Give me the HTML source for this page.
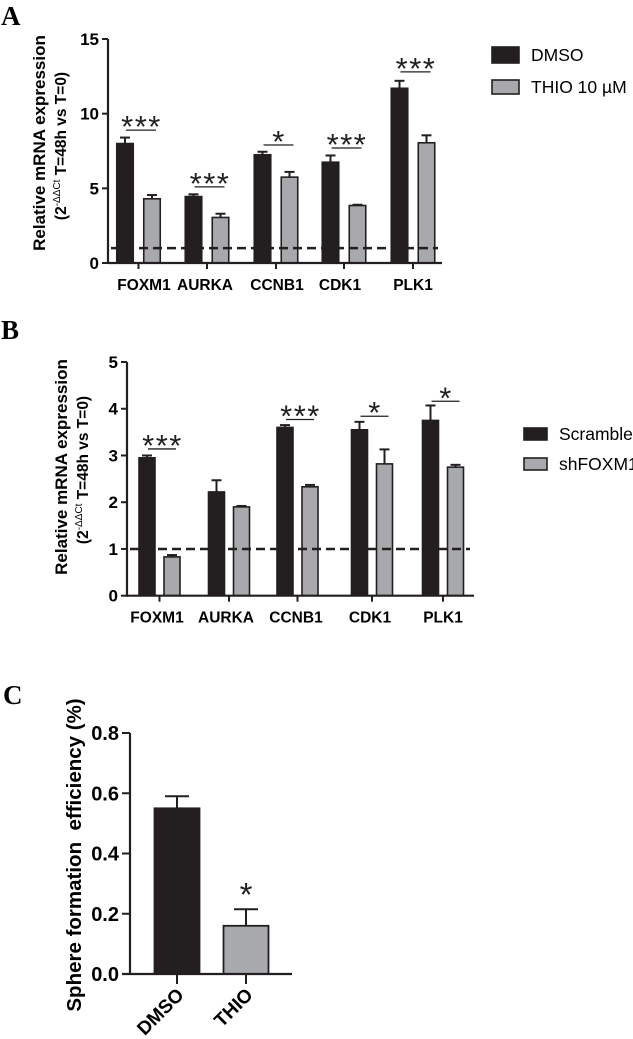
<!DOCTYPE html>
<html><head><meta charset="utf-8"><style>
html,body{margin:0;padding:0;background:#fff;}
svg{display:block;font-family:"Liberation Sans",Arial,sans-serif;}
.lt{font-family:"Liberation Serif",serif;font-weight:bold;font-size:27px;}
.tk{font-weight:bold;}
.yl{font-weight:bold;}
.lg{font-size:17.5px;}
</style></head><body>
<svg id="c" width="633" height="1039" viewBox="0 0 633 1039" xmlns="http://www.w3.org/2000/svg">
<text class="lt" x="1" y="25">A</text>
<text class="lt" x="1" y="339">B</text>
<text class="lt" x="3" y="704">C</text>
</svg>
<script>
const genesA = ["FOXM1","AURKA","CCNB1","CDK1","PLK1"];
const dmsoA = [8.0,4.45,7.25,6.75,11.7];
const dmsoErrA = [0.4,0.15,0.2,0.45,0.5];
const thioA = [4.3,3.05,5.75,3.85,8.05];
const thioErrA = [0.25,0.25,0.35,0.05,0.5];
const sigA = ["***","***","*","***","***"];
const sigLevelA = [8.9,5.1,7.9,7.7,12.8];
const ticksA = [0,5,10,15];

const genesB = ["FOXM1","AURKA","CCNB1","CDK1","PLK1"];
const scrB = [2.95,2.22,3.6,3.55,3.75];
const scrErrB = [0.05,0.25,0.05,0.17,0.32];
const shB = [0.83,1.9,2.33,2.82,2.75];
const shErrB = [0.04,0.02,0.04,0.31,0.05];
const sigB = ["***","","***","*","*"];
const sigLevelB = [3.14,0,3.77,3.84,4.16];
const ticksB = [0,1,2,3,4,5];

const groupsC = ["DMSO","THIO"];
const valsC = [0.55,0.16];
const errC = [0.04,0.055];
const sigC = ["","*"];
const ticksC = [0,0.2,0.4,0.6,0.8];

const svg = document.getElementById('c');
const NS = 'http://www.w3.org/2000/svg';
function mk(tag, attrs, parent){
  const e = document.createElementNS(NS, tag);
  for (const k in attrs) e.setAttribute(k, attrs[k]);
  (parent||svg).appendChild(e);
  return e;
}
const BLACK = '#231f20', GREY = '#a7a9ac', STROKE = '#231f20';

function groupedChart(cfg){
  const g = mk('g', {});
  
  
  const y = v => cfg.y0 - (v - cfg.min) / (cfg.max - cfg.min) * (cfg.y0 - cfg.yTop);
  const x = i => cfg.centers[i];
  cfg.genes.forEach((gname, i) => {
    [[cfg.s1, cfg.e1, BLACK, -1, 'dark'], [cfg.s2, cfg.e2, GREY, 1, 'light']].forEach(([s, e, col, side, nm]) => {
      const cx = x(i) + side * cfg.off;
      const top = y(s[i]);
      const bx = cx - cfg.bw/2;
      const et = y(s[i] + e[i]);
      const el = mk('line', {x1:cx, x2:cx, y1:top, y2:et, stroke:STROKE, 'stroke-width':2}, g);
      
      
      const cap = mk('line', {x1:cx-5, x2:cx+5, y1:et, y2:et, stroke:STROKE, 'stroke-width':2}, g);
      
      
      const r = mk('rect', {x:bx, y:top, width:cfg.bw, height:cfg.y0-top, fill:col, stroke:STROKE, 'stroke-width':1.6}, g);
      
      
    });
    if (cfg.sig[i]) {
      const ly = y(cfg.sigLevel[i]);
      const l = mk('line', {x1:x(i)-cfg.off+1, x2:x(i)+cfg.off+4, y1:ly, y2:ly, stroke:STROKE, 'stroke-width':1.3}, g);
      
      
      const t = mk('text', {x:x(i)+3, y:ly+7, 'text-anchor':'middle', style:'font-size:31px', fill:STROKE, 'letter-spacing':'1.5'}, g);
      t.textContent = cfg.sig[i];
      
      
    }
    const tl = mk('line', {x1:x(i), x2:x(i), y1:cfg.y0, y2:cfg.y0+6, stroke:STROKE, 'stroke-width':2}, g);
    
    
    const lab = mk('text', {x:cfg.labelX ? cfg.labelX[i] : x(i), y:cfg.y0+27, 'text-anchor':'middle', class:'tk', style:'font-size:15.5px'}, g);
    lab.textContent = gname;
    
    
  });
  const d = mk('line', {x1:cfg.ax+3, x2:cfg.xEnd-4, y1:y(1), y2:y(1), stroke:STROKE, 'stroke-width':2.5, 'stroke-dasharray':'9,5'}, g);
  
  
  const ya = mk('line', {x1:cfg.ax, x2:cfg.ax, y1:cfg.yTop, y2:cfg.y0+1, stroke:STROKE, 'stroke-width':2.2}, g);
  
  
  const xa = mk('line', {x1:cfg.ax, x2:cfg.xEnd, y1:cfg.y0, y2:cfg.y0, stroke:STROKE, 'stroke-width':2.2}, g);
  
  
  cfg.ticks.forEach(t => {
    const tl = mk('line', {x1:cfg.ax-6, x2:cfg.ax, y1:y(t), y2:y(t), stroke:STROKE, 'stroke-width':2}, g);
    
    
    const tx = mk('text', {x:cfg.ax-9, y:y(t)+6, 'text-anchor':'end', class:'tk', style:'font-size:17px'}, g);
    tx.textContent = t;
    
    
  });
  const yl = mk('text', {transform:'translate('+cfg.ylx+','+cfg.ylc+') rotate(-90)', 'text-anchor':'middle', class:'yl', style:'font-size:17px'}, g);
  yl.textContent = 'Relative mRNA expression';
  
  
  const yl2 = mk('text', {transform:'translate('+(cfg.ylx+21)+','+(cfg.ylc+3)+') rotate(-90)', 'text-anchor':'middle', class:'yl', style:'font-size:15.5px'}, g);
  yl2.innerHTML = '(2<tspan style="font-size:10px;font-weight:normal" dy="-6">-ΔΔCt</tspan><tspan dy="6"> T=48h vs T=0)</tspan>';
  
  
  cfg.legend.forEach((L, k) => {
    const r = mk('rect', {x:cfg.lgx, y:L.y, width:cfg.lgw, height:L.h, fill:k===0?BLACK:GREY, stroke:STROKE, 'stroke-width':1.6}, g);
    
    
    const t = mk('text', {x:cfg.lgtx, y:L.y+L.h/2+6, class:'lg'}, g);
    t.textContent = L.t;
    
    
  });
}

groupedChart({name:'chart-a', genes:genesA, s1:dmsoA, e1:dmsoErrA, s2:thioA, e2:thioErrA, sig:sigA, sigLevel:sigLevelA,
  ticks:ticksA, min:0, max:15, y0:263, yTop:39, ax:108, xEnd:442, centers:[138.5,207,276,344,413], off:13.5, bw:16.5,
  labelX:[144,205,277,340,413], ylx:45, ylc:143, lgx:492, lgw:27, lgtx:531,
  legend:[{y:47,h:16,t:'DMSO'},{y:80,h:14,t:'THIO 10 µM'}]});
groupedChart({name:'chart-b', genes:genesB, s1:scrB, e1:scrErrB, s2:shB, e2:shErrB, sig:sigB, sigLevel:sigLevelB,
  ticks:ticksB, min:0, max:5, y0:595.7, yTop:362, ax:127, xEnd:474, centers:[159.5,229,297.5,372,443], off:12.5, bw:16,
  labelX:[157,226,296,370,443], ylx:67, ylc:467, lgx:524, lgw:23, lgtx:559,
  legend:[{y:428,h:12,t:'Scramble'},{y:458,h:12,t:'shFOXM1'}]});

(function(){
  const g = mk('g', {});
  
  
  const y0 = 974, yTop = 733, ax = 130, xEnd = 292, centers = [177, 246], bw = 45;
  const y = v => y0 - v / 0.8 * (y0 - yTop);
  groupsC.forEach((gname, i) => {
    const cx = centers[i], top = y(valsC[i]), et = y(valsC[i] + errC[i]);
    const el = mk('line', {x1:cx, x2:cx, y1:top, y2:et, stroke:STROKE, 'stroke-width':2}, g);
    
    
    const cap = mk('line', {x1:cx-12, x2:cx+12, y1:et, y2:et, stroke:STROKE, 'stroke-width':2}, g);
    
    
    const r = mk('rect', {x:cx-bw/2, y:top, width:bw, height:y0-top, fill:i===0?BLACK:GREY, stroke:STROKE, 'stroke-width':1.8}, g);
    
    
    if (sigC[i]) {
      const t = mk('text', {x:cx, y:et-3, 'text-anchor':'middle', style:'font-size:33px', fill:STROKE}, g);
      t.textContent = sigC[i];
      
      
    }
    const tl = mk('line', {x1:cx, x2:cx, y1:y0, y2:y0+10, stroke:STROKE, 'stroke-width':2}, g);
    
    
    const lab = mk('text', {transform:'translate('+(cx+8)+','+(y0+22)+') rotate(-45)', 'text-anchor':'end', class:'tk', style:'font-size:19px'}, g);
    lab.textContent = gname;
    
    
  });
  const ya = mk('line', {x1:ax, x2:ax, y1:yTop, y2:y0+1, stroke:STROKE, 'stroke-width':2.2}, g);
  
  
  const xa = mk('line', {x1:ax-8, x2:xEnd, y1:y0, y2:y0, stroke:STROKE, 'stroke-width':2.2}, g);
  
  
  ticksC.forEach(t => {
    const tl = mk('line', {x1:ax-8, x2:ax, y1:y(t), y2:y(t), stroke:STROKE, 'stroke-width':2}, g);
    
    
    const tx = mk('text', {x:ax-11, y:y(t)+7, 'text-anchor':'end', class:'tk', style:'font-size:20px'}, g);
    tx.textContent = t.toFixed(1);
    
    
  });
  const yl = mk('text', {transform:'translate(81,855) rotate(-90)', 'text-anchor':'middle', class:'yl', style:'font-size:20.5px;white-space:pre'}, g);
  yl.textContent = 'Sphere formation  efficiency (%)';
  
  
})();
</script>
</body></html>
